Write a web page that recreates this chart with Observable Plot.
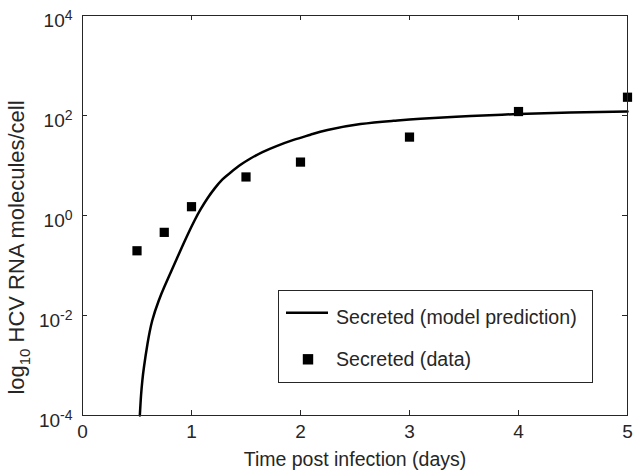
<!DOCTYPE html>
<html>
<head>
<meta charset="utf-8">
<script src="https://cdn.jsdelivr.net/npm/d3@7"></script>
<script src="https://cdn.jsdelivr.net/npm/@observablehq/plot@0.6"></script>
<style>
  html, body { margin: 0; padding: 0; background: #fff; }
  #chart { width: 638px; height: 473px; }
</style>
</head>
<body>
<div id="chart"></div>
<script>
// ---- data ----
const dataDays = [0.5, 0.75, 1, 1.5, 2, 3, 4, 5];
const dataSecreted = [0.197, 0.46, 1.5, 5.9, 11.7, 37, 120, 232];

const modelDays = [0.526, 0.537, 0.549, 0.564, 0.596, 0.640, 0.700, 0.752, 0.807, 0.862, 0.917, 0.972, 1.028, 1.083, 1.147, 1.211, 1.284, 1.358, 1.450, 1.541, 1.651, 1.780, 1.936, 2.092, 2.248, 2.550, 2.853, 3.101, 3.560, 4.0, 4.477, 5.0];
const modelSecreted = [1.00e-4, 2.51e-4, 5.01e-4, 9.33e-4, 2.69e-3, 7.94e-3, 2.00e-2, 3.80e-2, 7.08e-2, 0.132, 0.245, 0.447, 0.794, 1.32, 2.21, 3.45, 5.27, 7.24, 10.3, 13.8, 18.5, 24.4, 32.5, 41.3, 51.2, 67.3, 78.3, 85.9, 97.7, 107, 115, 120];

const xTicks = [0, 1, 2, 3, 4, 5];
const yTicks = [1e-4, 1e-2, 1, 1e2, 1e4];
const yTickExponents = ["-4", "-2", "0", "2", "4"];

const xLabel = "Time post infection (days)";
const yLabel = "log10 HCV RNA molecules/cell";
const legendLabels = ["Secreted (model prediction)", "Secreted (data)"];

// ---- tables for the library ----
const points = dataDays.map((d, i) => ({day: d, value: dataSecreted[i]}));
const model = modelDays.map((d, i) => ({day: d, value: modelSecreted[i]}));

const ink = "#262626";
const font = "'Liberation Sans', Arial, Helvetica, sans-serif";

const W = 638, H = 473, mL = 82, mR = 11, mT = 15, mB = 58;
const plotW = W - mL - mR, plotH = H - mT - mB;
const tickLen = 5;

const svg = Plot.plot({
  width: W,
  height: H,
  marginLeft: mL,
  marginRight: mR,
  marginTop: mT,
  marginBottom: mB,
  style: {fontFamily: font, background: "#fff", color: ink, overflow: "visible"},
  x: {domain: [0, 5]},
  y: {type: "log", domain: [1e-4, 1e4]},
  marks: [
    // inward ticks on all four sides
    Plot.tickX(xTicks, {x: d => d, insetTop: plotH - tickLen, stroke: ink, strokeWidth: 1}),
    Plot.tickX(xTicks, {x: d => d, insetBottom: plotH - tickLen, stroke: ink, strokeWidth: 1}),
    Plot.tickY(yTicks, {y: d => d, insetRight: plotW - tickLen, stroke: ink, strokeWidth: 1}),
    Plot.tickY(yTicks, {y: d => d, insetLeft: plotW - tickLen, stroke: ink, strokeWidth: 1}),
    Plot.axisX({ticks: xTicks, tickSize: 0, tickPadding: 9, label: null, fontSize: 19, tickFormat: d => String(d), fill: ink}),
    Plot.axisY({ticks: yTicks, tickSize: 0, tickPadding: 10, label: null, fontSize: 19, dy: 5, fill: ink,
      tickFormat: d => "10^" + yTickExponents[yTicks.indexOf(d)]}),
    Plot.text([xLabel], {text: d => d, frameAnchor: "bottom", lineAnchor: "middle", textAnchor: "middle", dy: 44, fontSize: 19.5, fill: ink}),
    Plot.text([yLabel], {text: d => d, frameAnchor: "left", lineAnchor: "middle", textAnchor: "middle", dx: -66, dy: 32, rotate: -90, fontSize: 22, fill: ink}),
    Plot.line(model, {x: "day", y: "value", stroke: "#000", strokeWidth: 2.5, curve: "natural"}),
    Plot.dot(points, {x: "day", y: "value", symbol: "square", r: 5.2, fill: "#000", stroke: "none"}),
    Plot.frame({stroke: ink, strokeWidth: 1})
  ]
});

// superscripts for the log tick labels, subscript for the y label
d3.select(svg).selectAll("text").each(function () {
  const t = d3.select(this);
  const s = this.textContent;
  if (s.startsWith("10^")) {
    const [base, exp] = s.split("^");
    t.text(null);
    t.append("tspan").text(base);
    t.append("tspan").attr("font-size", 14).attr("dy", -7).text(exp);
  } else if (s === yLabel) {
    t.text(null);
    t.append("tspan").text("log");
    t.append("tspan").attr("font-size", 15).attr("dy", 6).text("10");
    t.append("tspan").attr("dy", -6).text(" HCV RNA molecules/cell");
  }
});

// legend box inside the axes
const lg = d3.select(svg).append("g").attr("aria-label", "legend").attr("text-anchor", "start");
lg.append("rect").attr("x", 278.5).attr("y", 290.5).attr("width", 314).attr("height", 92)
  .attr("fill", "#fff").attr("stroke", ink).attr("stroke-width", 1);
lg.append("line").attr("x1", 286).attr("x2", 328).attr("y1", 312.7).attr("y2", 312.7)
  .attr("stroke", "#000").attr("stroke-width", 2.5);
lg.append("rect").attr("x", 308 - 5.2).attr("y", 359.3 - 5.2).attr("width", 10.4).attr("height", 10.4).attr("fill", "#000");
lg.append("text").attr("x", 336).attr("y", 324).attr("font-size", 19.6).attr("fill", ink)
  .attr("text-anchor", "start").attr("font-family", font).text(legendLabels[0]);
lg.append("text").attr("x", 336).attr("y", 366).attr("font-size", 19.6).attr("fill", ink)
  .attr("text-anchor", "start").attr("font-family", font).text(legendLabels[1]);

document.getElementById("chart").appendChild(svg);
</script>
</body>
</html>
